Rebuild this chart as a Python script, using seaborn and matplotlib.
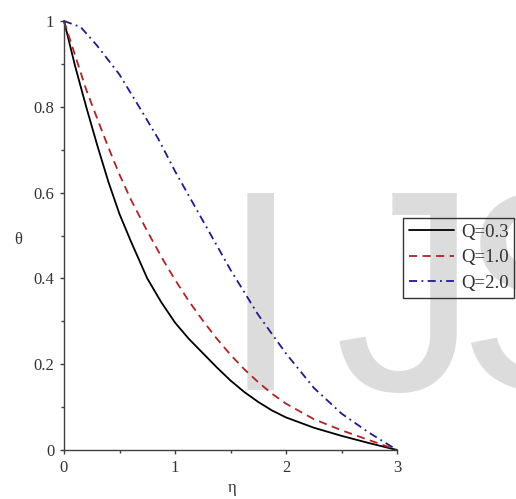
import numpy as np
import pandas as pd
import matplotlib
matplotlib.use("Agg")
import matplotlib.pyplot as plt
import seaborn as sns

eta_q03 = [0.0, 0.1, 0.2, 0.3, 0.4, 0.5, 0.6, 0.75, 0.875, 1.0, 1.125, 1.25, 1.375, 1.5,
           1.625, 1.75, 1.875, 2.0, 2.25, 2.5, 2.75, 3.0]
theta_q03 = [1.0, 0.895, 0.80, 0.71, 0.625, 0.55, 0.488, 0.40, 0.345, 0.297, 0.259, 0.226,
             0.193, 0.162, 0.135, 0.112, 0.092, 0.076, 0.052, 0.033, 0.016, 0.0]
eta_q10 = [0.0, 0.1, 0.2, 0.3, 0.4, 0.5, 0.6, 0.75, 0.9, 1.0, 1.125, 1.25, 1.375, 1.5,
           1.625, 1.75, 1.875, 2.0, 2.25, 2.5, 2.75, 3.0]
theta_q10 = [1.0, 0.92, 0.84, 0.772, 0.705, 0.642, 0.585, 0.51, 0.44, 0.397, 0.347, 0.302,
             0.26, 0.222, 0.188, 0.158, 0.131, 0.108, 0.072, 0.046, 0.023, 0.0]
eta_q20 = [0.0, 0.15, 0.3, 0.5, 0.7, 0.85, 1.0, 1.25, 1.5, 1.75, 2.0, 2.25, 2.5, 2.75, 3.0]
theta_q20 = [1.0, 0.986, 0.942, 0.875, 0.79, 0.725, 0.65, 0.535, 0.42, 0.315, 0.225, 0.145, 0.085, 0.04, 0.0]
labels = ["Q=0.3", "Q=1.0", "Q=2.0"]
x_ticks = [0, 1, 2, 3]
y_ticks = [0, 0.2, 0.4, 0.6, 0.8, 1]
y_tick_labels = ["0", "0.2", "0.4", "0.6", "0.8", "1"]

df = pd.DataFrame({
    "eta": eta_q03 + eta_q10 + eta_q20,
    "theta": theta_q03 + theta_q10 + theta_q20,
    "Q": [labels[0]] * len(eta_q03) + [labels[1]] * len(eta_q10) + [labels[2]] * len(eta_q20),
})

sns.set_style("white")
plt.rcParams["font.family"] = ["Liberation Serif", "DejaVu Serif"]

fig = plt.figure(figsize=(5.16, 4.99), dpi=100)
W, H = 516, 499
ax = fig.add_axes([64 / W, 1 - 450 / H, 333 / W, 429 / H])
ax.set_facecolor("none")

# watermark letters (behind everything)
wm = dict(fontsize=206, color="#dcdcdc", family="Liberation Sans", ha="left",
          va="baseline", zorder=-5)
fig.text(221 / W, 1 - 390 / H, "I", **wm)
fig.text(335 / W, 1 - 390 / H, "J", **wm)
fig.text(458 / W, 1 - 390 / H, "S", **wm)

palette = {labels[0]: "#000000", labels[1]: "#b22222", labels[2]: "#1c1c8c"}
dashes = {labels[0]: "", labels[1]: (4.5, 3.0), labels[2]: (4.5, 2.4, 1.0, 2.4)}
sns.lineplot(data=df, x="eta", y="theta", hue="Q", style="Q", palette=palette,
             dashes=dashes, linewidth=1.3, ax=ax, legend=True, clip_on=False, sort=True)

ax.set_xlim(0, 3)
ax.set_ylim(0, 1)
ax.set_xticks(x_ticks)
ax.set_xticklabels([str(t) for t in x_ticks])
ax.set_yticks(y_ticks)
ax.set_yticklabels(y_tick_labels)
ax.set_xticks([0.5, 1.5, 2.5], minor=True)
ax.set_yticks([0.1, 0.3, 0.5, 0.7, 0.9], minor=True)
for s in ["top", "right"]:
    ax.spines[s].set_visible(False)
for s in ["left", "bottom"]:
    ax.spines[s].set_color("#404040")
    ax.spines[s].set_linewidth(1.0)
ax.tick_params(which="major", direction="out", length=3, width=1, color="#404040",
               labelsize=12, labelcolor="#333333", pad=4, left=True, bottom=True)
ax.tick_params(which="minor", direction="out", length=2, width=1, color="#404040",
               left=True, bottom=True)
ax.set_xlabel("")
ax.set_ylabel("")
fig.text(18 / W, 1 - 240 / H, "θ", fontsize=12, color="#333333", ha="center", va="center")
fig.text(232 / W, 1 - 488 / H, "η", fontsize=12, color="#333333", ha="center", va="center")

handles, lbls = ax.get_legend_handles_labels()
leg = ax.legend(handles, lbls, loc="upper left", bbox_to_anchor=(403 / W, 1 - 218 / H),
                bbox_transform=fig.transFigure, borderaxespad=0, fontsize=13.5,
                frameon=True, fancybox=False, edgecolor="#333333",
                handlelength=2.4, handletextpad=0.4, labelspacing=0.45, borderpad=0.3)
frame = leg.get_frame()
frame.set_linewidth(1.0)
frame.set_facecolor("none")
frame.set_alpha(None)
frame.set_edgecolor("#333333")
for t in leg.get_texts():
    t.set_color("#333333")

fig.savefig("out.png", dpi=100)
